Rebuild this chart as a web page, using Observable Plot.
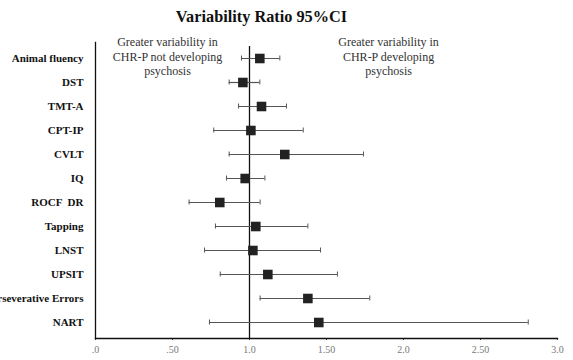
<!DOCTYPE html>
<html>
<head>
<meta charset="utf-8">
<script src="https://cdn.jsdelivr.net/npm/d3@7"></script>
<script src="https://cdn.jsdelivr.net/npm/@observablehq/plot@0.6"></script>
<style>
  html, body { margin: 0; padding: 0; background: #fff; overflow: hidden; }
  #title { width: 573px; box-sizing: border-box; padding-right: 50px; height: 30px; line-height: 34px;
    text-align: center; font-family: "Liberation Serif", "Times New Roman", serif; font-weight: bold; font-size: 16.3px; color: #111; }
</style>
</head>
<body>
<div id="title">Variability Ratio 95%CI</div>
<div id="chart"></div>
<script>
const measures = ["Animal fluency", "DST", "TMT-A", "CPT-IP", "CVLT", "IQ", "ROCF  DR", "Tapping", "LNST", "UPSIT", "Perseverative Errors", "NART"];
const ratio = [1.067, 0.957, 1.078, 1.009, 1.229, 0.972, 0.807, 1.041, 1.022, 1.119, 1.379, 1.450];
const lower = [0.948, 0.868, 0.929, 0.768, 0.868, 0.851, 0.608, 0.779, 0.708, 0.810, 1.069, 0.740];
const upper = [1.197, 1.067, 1.240, 1.349, 1.740, 1.100, 1.069, 1.379, 1.461, 1.571, 1.781, 2.810];
const xTicks = [0, 0.5, 1, 1.5, 2, 2.5, 3];
const xTickLabels = [".0", ".50", "1.0", "1.50", "2.0", "2.50", "3.0"];
const notes = ["Greater variability in\nCHR-P not developing\npsychosis", "Greater variability in\nCHR-P developing\npsychosis"];
const noteX = [0.4675, 1.903];

const rows = measures.map((m, i) => ({measure: m, ratio: ratio[i], lower: lower[i], upper: upper[i]}));
const noteRows = notes.map((t, i) => ({text: t, x: noteX[i]}));
const serif = "Liberation Serif, Times New Roman, serif";

const plot = Plot.plot({
  width: 573,
  height: 330,
  marginLeft: 95,
  marginRight: 16,
  marginTop: 12,
  marginBottom: 22,
  style: {fontFamily: serif, background: "#fff", overflow: "visible"},
  x: {domain: [0, 3], ticks: xTicks, tickFormat: d => xTickLabels[xTicks.indexOf(d)]},
  y: {type: "band", domain: measures, padding: 0},
  marks: [
    Plot.axisX({ticks: xTicks, tickFormat: d => xTickLabels[xTicks.indexOf(d)], tickSize: 2, tickPadding: 5, fontSize: 10, color: "#777", stroke: "#444", label: null}),
    Plot.axisY({tickSize: 0, tickPadding: 12, fontSize: 11, fontWeight: "bold", color: "#111", label: null}),
    Plot.frame({anchor: "left", stroke: "#111", strokeWidth: 1.3}),
    Plot.frame({anchor: "bottom", stroke: "#111", strokeWidth: 1.3}),
    Plot.ruleX([1], {stroke: "#111", strokeWidth: 1.3, insetTop: 4}),
    Plot.ruleY(rows, {y: "measure", x1: "lower", x2: "upper", stroke: "#555", strokeWidth: 1.2}),
    Plot.tickX(rows, {y: "measure", x: "lower", stroke: "#555", insetTop: 9.5, insetBottom: 9.5}),
    Plot.tickX(rows, {y: "measure", x: "upper", stroke: "#555", insetTop: 9.5, insetBottom: 9.5}),
    Plot.dot(rows, {y: "measure", x: "ratio", symbol: "square", r: 5.4, fill: "#222", stroke: "none"}),
    Plot.text(noteRows, {x: "x", text: "text", frameAnchor: "top", lineAnchor: "top", dy: -6, fontSize: 12, lineHeight: 1.17, fill: "#333", textAnchor: "middle"})
  ]
});
document.getElementById("chart").appendChild(plot);
</script>
</body>
</html>
